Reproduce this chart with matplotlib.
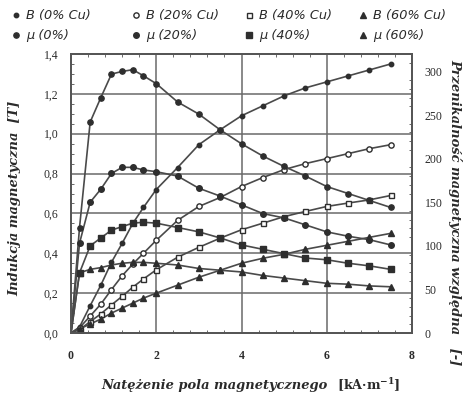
import matplotlib
matplotlib.use("Agg")
import matplotlib.pyplot as plt
from matplotlib.lines import Line2D
from matplotlib.ticker import MultipleLocator, FixedLocator

plt.rcParams["mathtext.fontset"] = "custom"
plt.rcParams["mathtext.rm"] = "DejaVu Serif"
plt.rcParams["mathtext.bf"] = "DejaVu Serif:bold"

# Magnetic field strength H [kA/m] at the measured points
H = [0.2, 0.45, 0.7, 0.95, 1.2, 1.45, 1.7, 2.0, 2.5, 3.0, 3.5, 4.0,
     4.5, 5.0, 5.5, 6.0, 6.5, 7.0, 7.5]

# Magnetic induction B [T]
B_cu0 = [0.03, 0.137, 0.24, 0.355, 0.45, 0.55, 0.63, 0.72, 0.83, 0.945, 1.02,
         1.09, 1.14, 1.19, 1.23, 1.26, 1.29, 1.32, 1.35]
B_cu20 = [0.026, 0.085, 0.145, 0.218, 0.287, 0.346, 0.40, 0.465, 0.565, 0.635,
          0.68, 0.735, 0.78, 0.82, 0.85, 0.875, 0.90, 0.925, 0.945]
B_cu40 = [0.017, 0.057, 0.096, 0.141, 0.184, 0.23, 0.271, 0.317, 0.38, 0.43,
          0.476, 0.518, 0.551, 0.584, 0.61, 0.635, 0.652, 0.668, 0.69]
B_cu60 = [0.02, 0.045, 0.07, 0.10, 0.125, 0.15, 0.175, 0.20, 0.24, 0.28, 0.315,
          0.35, 0.375, 0.395, 0.42, 0.44, 0.46, 0.48, 0.50]

# Relative magnetic permeability mu [-]
mu_cu0 = [121, 242, 270, 297, 300, 302, 295, 286, 265, 251, 233, 217, 203,
          191, 180, 168, 160, 152, 144]
mu_cu20 = [103, 150, 165, 183, 190, 190, 187, 185, 180, 166, 157, 147, 137,
           132, 124, 116, 111, 107, 101]
mu_cu40 = [69, 100, 109, 118, 122, 126, 127, 126, 121, 116, 109, 101, 96, 91,
           86, 84, 80, 77, 73]
mu_cu60 = [69, 73, 75, 78, 80, 81, 81, 80, 78, 74, 72, 70, 66, 63, 60, 57, 56,
           54, 53]

x_ticks = [0, 2, 4, 6, 8]
b_ticks = [0.0, 0.2, 0.4, 0.6, 0.8, 1.0, 1.2, 1.4]
mu_ticks = [0, 50, 100, 150, 200, 250, 300]

LINE = "#4a4a4a"
MARK = "#2e2e2e"
GRID = "#6a6a6a"
TXT = "#2a2a2a"

b_series = [
    (B_cu0, dict(marker="o", ms=3.2, mfc=MARK, mec=MARK)),
    (B_cu20, dict(marker="o", ms=3.8, mfc="white", mec=MARK, mew=1.0)),
    (B_cu40, dict(marker="s", ms=3.6, mfc="white", mec=MARK, mew=1.0)),
    (B_cu60, dict(marker="^", ms=4.0, mfc=MARK, mec=MARK)),
]
mu_series = [
    (mu_cu0, dict(marker="o", ms=3.8, mfc=MARK, mec=MARK)),
    (mu_cu20, dict(marker="o", ms=4.0, mfc=MARK, mec=MARK)),
    (mu_cu40, dict(marker="s", ms=3.8, mfc=MARK, mec=MARK)),
    (mu_cu60, dict(marker="^", ms=4.2, mfc=MARK, mec=MARK)),
]

fig = plt.figure(figsize=(4.64, 4.05), dpi=100)
ax = fig.add_axes([71 / 464, 1 - 333 / 405, 341 / 464, 279 / 405])
ax2 = ax.twinx()

ax.set_xlim(0, 8)
ax.set_ylim(0, 1.4)
ax2.set_ylim(0, 320)

# grid
for gx in x_ticks[1:-1]:
    ax.axvline(gx, color=GRID, lw=1.1, zorder=0)
for gy in b_ticks[1:-1]:
    ax.axhline(gy, color=GRID, lw=1.1, zorder=0)

# curves start at the origin, markers only at the measured points
for vals, st in b_series:
    ax.plot([0] + H, [0] + vals, color=LINE, lw=1.2, zorder=2)
    ax.plot(H, vals, ls="none", zorder=3, **st)
for vals, st in mu_series:
    ax2.plot([0] + H, [0] + vals, color=LINE, lw=1.2, zorder=2)
    ax2.plot(H, vals, ls="none", zorder=3, **st)

tick_font = dict(family="Liberation Serif", size=8.5)

ax.xaxis.set_major_locator(FixedLocator(x_ticks))
ax.set_xticklabels([str(v) for v in x_ticks], color=TXT, weight="bold", **tick_font)
ax.yaxis.set_major_locator(FixedLocator(b_ticks))
ax.set_yticklabels([f"{v:.1f}".replace(".", ",") for v in b_ticks], color=TXT, **tick_font)
ax2.yaxis.set_major_locator(FixedLocator(mu_ticks))
ax2.set_yticklabels([str(v) for v in mu_ticks], color=TXT, **tick_font)

ax.tick_params(axis="x", length=0, pad=12)
ax.tick_params(axis="y", length=0, pad=9)
ax2.tick_params(axis="y", length=0, pad=9)

ax.xaxis.set_minor_locator(MultipleLocator(0.4))
ax.yaxis.set_minor_locator(MultipleLocator(0.05))
ax2.yaxis.set_minor_locator(MultipleLocator(10))
ax.tick_params(which="minor", direction="in", length=2.5, width=0.7,
               color=GRID, top=True, bottom=True)
ax2.tick_params(which="minor", direction="in", length=2.5, width=0.7, color=GRID)

for a in (ax, ax2):
    for s in a.spines.values():
        s.set_color("#555555")
        s.set_linewidth(1.3)

label_font = dict(family="DejaVu Serif", style="italic", weight="bold",
                  size=9.4, color=TXT)

fig.text(15 / 464, 1 - 198 / 405, "Indukcja magnetyczna  [T]",
         rotation=90, ha="center", va="center", **label_font)
fig.text(455 / 464, 1 - 212 / 405, "Przenikalność magnetyczna względna   [-]",
         rotation=270, ha="center", va="center", **label_font)
fig.text(328 / 464, 1 - 385 / 405, "Natężenie pola magnetycznego",
         ha="right", va="center", **label_font)
fig.text(337 / 464, 1 - 385 / 405, r"[kA·m$^{\mathbf{-1}}$]",
         ha="left", va="center", family="DejaVu Serif", weight="bold",
         size=9.2, color=TXT)

# legend: two rows of four entries above the plot
legend_rows = [
    [("B (0% Cu)", b_series[0][1]), ("B (20% Cu)", b_series[1][1]),
     ("B (40% Cu)", b_series[2][1]), ("B (60% Cu)", b_series[3][1])],
    [("μ (0%)", mu_series[0][1]), ("μ (20%)", mu_series[1][1]),
     ("μ (40%)", mu_series[2][1]), ("μ (60%)", mu_series[3][1])],
]
col_x = [16, 136, 249, 363]
row_y = [15, 35]
for r, row in enumerate(legend_rows):
    for c, (label, st) in enumerate(row):
        fx = col_x[c] / 464
        fy = 1 - row_y[r] / 405
        fig.add_artist(Line2D([fx], [fy], transform=fig.transFigure,
                              ls="none", **st))
        fig.text(fx + 10 / 464, fy, label, ha="left", va="center",
                 family="DejaVu Sans", style="italic", size=9.3, color=TXT)

fig.savefig("out.png", dpi=100)
